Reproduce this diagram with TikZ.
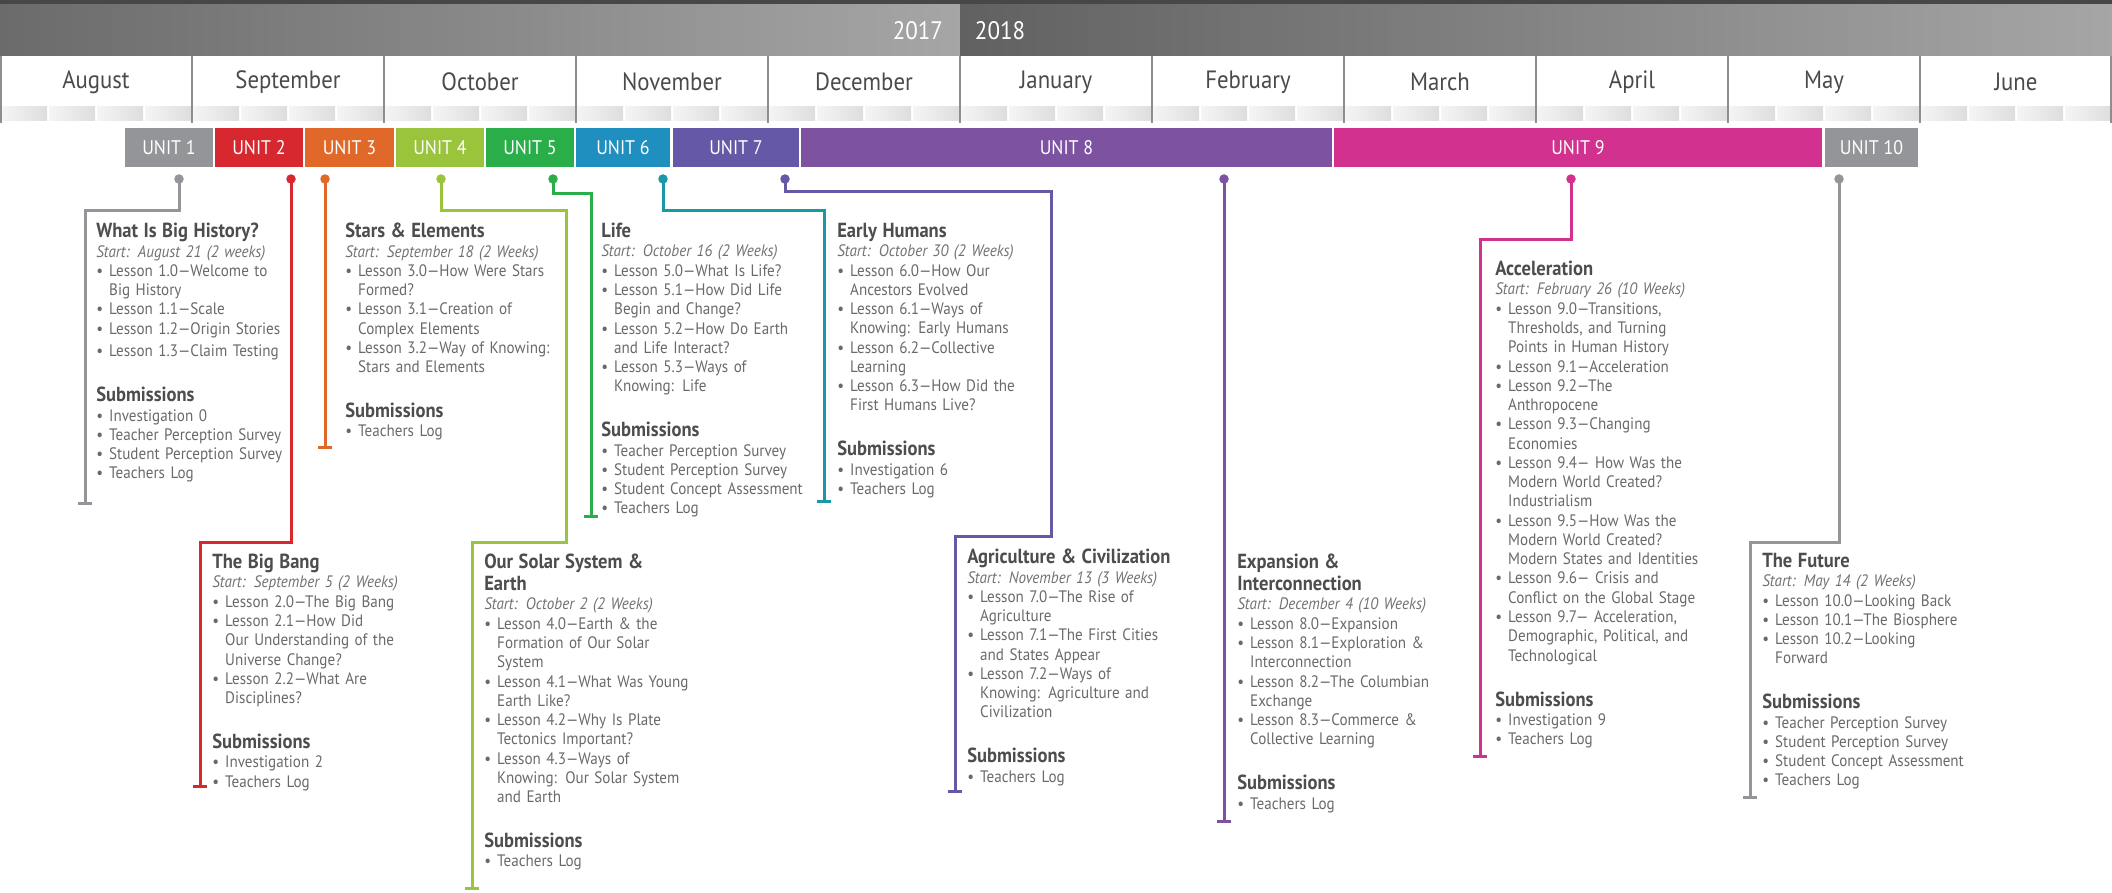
\documentclass[tikz,border=0pt]{standalone}
\usepackage{fontspec}
\setmainfont{PT Sans}[FakeStretch=0.91]
\usetikzlibrary{arrows.meta}

\definecolor{unitgray}{HTML}{939598}
\definecolor{unitred}{HTML}{D7272F}
\definecolor{unitorange}{HTML}{E0692A}
\definecolor{unitlime}{HTML}{9AC43C}
\definecolor{unitgreen}{HTML}{2AAE4A}
\definecolor{unitblue}{HTML}{1F8FC0}
\definecolor{unitteal}{HTML}{1A98A6}
\definecolor{unitindigo}{HTML}{6559A7}
\definecolor{unitpurple}{HTML}{7D52A0}
\definecolor{unitmagenta}{HTML}{D2318F}
\definecolor{headtxt}{HTML}{4D4D4F}
\definecolor{bodytxt}{HTML}{68696B}
\definecolor{starttxt}{HTML}{707174}
\definecolor{monthtxt}{HTML}{4A4A4C}
\definecolor{divider}{HTML}{8E8E90}

\newcommand{\pxu}{0.025cm}
\newcommand{\nl}{\hfil\break}
\newcommand{\hd}[1]{{\leavevmode\color{headtxt}\fontsize{14.5}{15.6}\selectfont\bfseries\rule{0pt}{10pt}#1\par}}
\newcommand{\st}[1]{{\leavevmode\color{starttxt}\itshape #1\par}}
\newcommand{\li}[1]{\hangindent=9.2pt\hangafter=1\noindent\makebox[9.2pt][l]{\textbullet}#1\par}
\newcommand{\subm}{\vspace{16.4pt}\hd{Submissions}}

\begin{document}
\begin{tikzpicture}[x=0.025cm, y=-0.025cm,
  unitbox/.style={minimum height=39*\pxu, inner sep=0pt, text=white, font=\fontsize{14}{14}\selectfont},
  udot/.style={circle, inner sep=0pt, minimum size=9.5*\pxu},
  conn/.style={line width=3*\pxu},
  endbar/.style={-{Bar[width=0.33cm]}},
  block/.style={anchor=north west, inner sep=0pt, text width=6cm, align=left, text=bodytxt, font=\fontsize{11.8}{13.7}\selectfont},
  month/.style={text=monthtxt, font=\fontsize{17.8}{17.8}\selectfont}]

\useasboundingbox (0,0) rectangle (2112,893);

% year band
\fill[black!72] (0,0) rectangle (2112,5);
\shade[left color=black!58, right color=black!35] (0,5) rectangle (960,56);
\shade[left color=black!62, right color=black!35] (960,5) rectangle (2112,56);
\node[anchor=east, text=white, font=\fontsize{18}{18}\selectfont] (y17) at (948,31) {2017};
\node[anchor=west, text=white, font=\fontsize{18}{18}\selectfont] (y18) at (970,31) {2018};

% months
\foreach \m [count=\i from 0] in {August,September,October,November,December,January,February,March,April,May,June} {
  \node[month] (mo\i) at ({192*\i+96},82) {\m};
  \foreach \j in {0,...,3}
    \shade[left color=black!4, right color=black!13] ({192*\i+48*\j+1},107) rectangle ({192*\i+48*\j+47},121);
}
\foreach \x in {1,192,384,576,768,960,1152,1344,1536,1728,1920,2111}
  \draw[divider, line width=2*\pxu] (\x,56) -- (\x,123);

% units
\foreach \a/\b/\c/\t [count=\i] in {125/213/unitgray/UNIT 1, 215/303/unitred/UNIT 2,
    305/394/unitorange/UNIT 3, 396/484/unitlime/UNIT 4, 486/574/unitgreen/UNIT 5,
    576/670/unitblue/UNIT 6, 673/799/unitindigo/UNIT 7, 801/1332/unitpurple/UNIT 8,
    1334/1822/unitmagenta/UNIT 9, 1825/1918/unitgray/UNIT 10}
  \node[unitbox, fill=\c, minimum width={(\b-\a)*\pxu}] (u\i) at ({(\a+\b)/2},147.5) {\t};

% start dots
\node[udot, fill=unitgray] (d1) at (179,179) {};
\node[udot, fill=unitred] (d2) at (291,179) {};
\node[udot, fill=unitorange] (d3) at (325,179) {};
\node[udot, fill=unitlime] (d4) at (441,179) {};
\node[udot, fill=unitgreen] (d5) at (553,179) {};
\node[udot, fill=unitteal] (d6) at (663,179) {};
\node[udot, fill=unitindigo] (d7) at (785,179) {};
\node[udot, fill=unitpurple] (d8) at (1224,179) {};
\node[udot, fill=unitmagenta] (d9) at (1571,179) {};
\node[udot, fill=unitgray] (d10) at (1839,179) {};

% bends and ends
\coordinate (j1) at (85,211);    \coordinate (e1) at (85,505);
\coordinate (j2) at (200,542);   \coordinate (e2) at (200,788);
\coordinate (e3) at (325,449);
\coordinate (j4a) at (566,211);  \coordinate (j4b) at (472,542);  \coordinate (e4) at (472,890);
\coordinate (j5) at (591,194);   \coordinate (e5) at (591,518);
\coordinate (j6) at (824,211);   \coordinate (e6) at (824,503);
\coordinate (j7a) at (1051,192); \coordinate (j7b) at (955,536);  \coordinate (e7) at (955,793);
\coordinate (e8) at (1224,823);
\coordinate (j9) at (1480,240);  \coordinate (e9) at (1480,758);
\coordinate (j10) at (1750,542); \coordinate (e10) at (1750,799);

\draw[conn, endbar, unitgray] (d1.center) |- (j1) -- (e1);
\draw[conn, endbar, unitred] (d2.center) |- (j2) -- (e2);
\draw[conn, endbar, unitorange] (d3.center) -- (e3);
\draw[conn, endbar, unitlime] (d4.center) |- (j4a) |- (j4b) -- (e4);
\draw[conn, endbar, unitgreen] (d5.center) |- (j5) -- (e5);
\draw[conn, endbar, unitteal] (d6.center) |- (j6) -- (e6);
\draw[conn, endbar, unitindigo] (d7.center) |- (j7a) |- (j7b) -- (e7);
\draw[conn, endbar, unitpurple] (d8.center) -- (e8);
\draw[conn, endbar, unitmagenta] (d9.center) |- (j9) -- (e9);
\draw[conn, endbar, unitgray] (d10.center) |- (j10) -- (e10);

% lesson lists
\node[block] (b1) at ([yshift=10pt]96,237) {%
\hd{What Is Big History?}
\st{Start: August 21 (2 weeks)}
\li{Lesson 1.0—Welcome to\nl Big History}
\li{Lesson 1.1—Scale}
\li{Lesson 1.2—Origin Stories}
\vspace{2.5pt}\li{Lesson 1.3—Claim Testing}
\subm
\li{Investigation 0}
\li{Teacher Perception Survey}
\li{Student Perception Survey}
\li{Teachers Log}};

\node[block] (b2) at ([yshift=10pt]212,568) {%
\hd{The Big Bang}
\st{Start: September 5 (2 Weeks)}
\li{Lesson 2.0—The Big Bang}
\li{Lesson 2.1—How Did\nl Our Understanding of the\nl Universe Change?}
\li{Lesson 2.2—What Are\nl Disciplines?}
\subm
\li{Investigation 2}
\li{Teachers Log}};

\node[block] (b3) at ([yshift=10pt]345,237) {%
\hd{Stars \& Elements}
\st{Start: September 18 (2 Weeks)}
\li{Lesson 3.0—How Were Stars\nl Formed?}
\li{Lesson 3.1—Creation of\nl Complex Elements}
\li{Lesson 3.2—Way of Knowing:\nl Stars and Elements}
\subm
\li{Teachers Log}};

\node[block] (b4) at ([yshift=10pt]484,568) {%
\hd{Our Solar System \&\\Earth}
\st{Start: October 2 (2 Weeks)}
\li{Lesson 4.0—Earth \& the\nl Formation of Our Solar\nl System}
\li{Lesson 4.1—What Was Young\nl Earth Like?}
\li{Lesson 4.2—Why Is Plate\nl Tectonics Important?}
\li{Lesson 4.3—Ways of\nl Knowing: Our Solar System\nl and Earth}
\subm
\li{Teachers Log}};

\node[block] (b5) at ([yshift=10pt]601,237) {%
\hd{Life}
\st{Start: October 16 (2 Weeks)}
\li{Lesson 5.0—What Is Life?}
\li{Lesson 5.1—How Did Life\nl Begin and Change?}
\li{Lesson 5.2—How Do Earth\nl and Life Interact?}
\li{Lesson 5.3—Ways of\nl Knowing: Life}
\subm
\li{Teacher Perception Survey}
\li{Student Perception Survey}
\li{Student Concept Assessment}
\li{Teachers Log}};

\node[block] (b6) at ([yshift=10pt]837,237) {%
\hd{Early Humans}
\st{Start: October 30 (2 Weeks)}
\li{Lesson 6.0—How Our\nl Ancestors Evolved}
\li{Lesson 6.1—Ways of\nl Knowing: Early Humans}
\li{Lesson 6.2—Collective\nl Learning}
\li{Lesson 6.3—How Did the\nl First Humans Live?}
\subm
\li{Investigation 6}
\li{Teachers Log}};

\node[block] (b7) at ([yshift=10pt]967,563) {%
\hd{Agriculture \& Civilization}
\st{Start: November 13 (3 Weeks)}
\li{Lesson 7.0—The Rise of\nl Agriculture}
\li{Lesson 7.1—The First Cities\nl and States Appear}
\li{Lesson 7.2—Ways of\nl Knowing: Agriculture and\nl Civilization}
\subm
\li{Teachers Log}};

\node[block] (b8) at ([yshift=10pt]1237,568) {%
\hd{Expansion \&\\Interconnection}
\st{Start: December 4 (10 Weeks)}
\li{Lesson 8.0—Expansion}
\li{Lesson 8.1—Exploration \&\nl Interconnection}
\li{Lesson 8.2—The Columbian\nl Exchange}
\li{Lesson 8.3—Commerce \&\nl Collective Learning}
\subm
\li{Teachers Log}};

\node[block] (b9) at ([yshift=10pt]1495,275) {%
\hd{Acceleration}
\st{Start: February 26 (10 Weeks)}
\li{Lesson 9.0—Transitions,\nl Thresholds, and Turning\nl Points in Human History}
\li{Lesson 9.1—Acceleration}
\li{Lesson 9.2—The\nl Anthropocene}
\li{Lesson 9.3—Changing\nl Economies}
\li{Lesson 9.4— How Was the\nl Modern World Created?\nl Industrialism}
\li{Lesson 9.5—How Was the\nl Modern World Created?\nl Modern States and Identities}
\li{Lesson 9.6— Crisis and\nl Conflict on the Global Stage}
\li{Lesson 9.7— Acceleration,\nl Demographic, Political, and\nl Technological}
\subm
\li{Investigation 9}
\li{Teachers Log}};

\node[block] (b10) at ([yshift=10pt]1762,567) {%
\hd{The Future}
\st{Start: May 14 (2 Weeks)}
\li{Lesson 10.0—Looking Back}
\li{Lesson 10.1—The Biosphere}
\li{Lesson 10.2—Looking\nl Forward}
\subm
\li{Teacher Perception Survey}
\li{Student Perception Survey}
\li{Student Concept Assessment}
\li{Teachers Log}};

\end{tikzpicture}
\end{document}
